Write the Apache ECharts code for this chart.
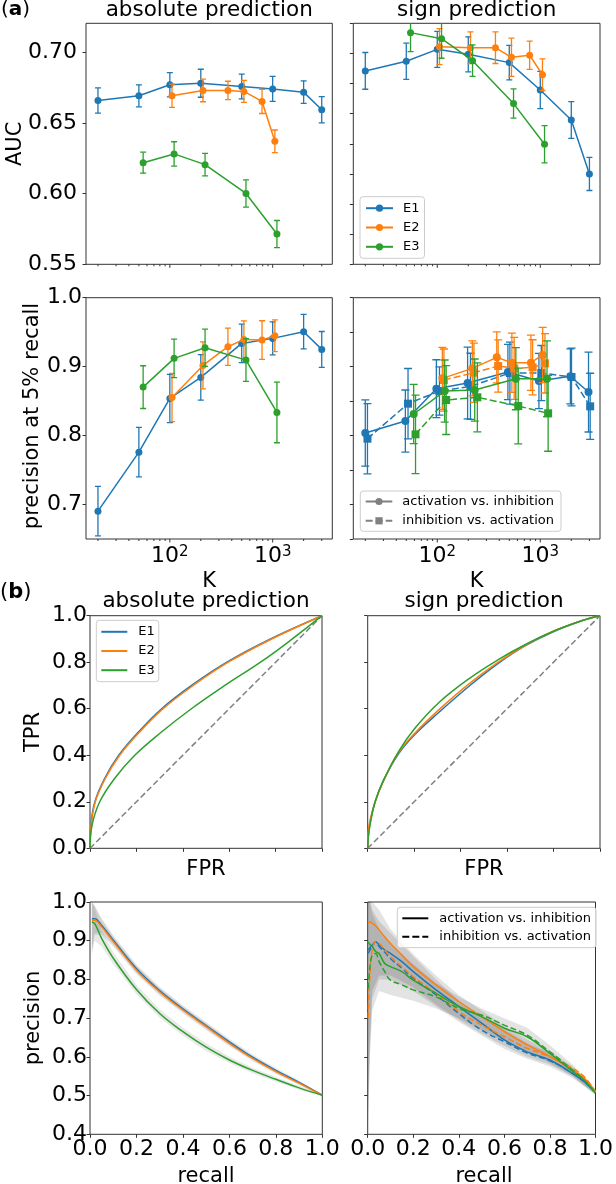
<!DOCTYPE html>
<html><head><meta charset="utf-8">
<script src="https://cdn.jsdelivr.net/npm/echarts@6/dist/echarts.min.js"></script>
<style>html,body{margin:0;padding:0;background:#fff}#c{width:616px;height:1184px}</style>
</head><body><div id="c"></div>
<script>
// ---------------- data ----------------
const kMin = 15.3, kMax = 3800;
const kMajorTicks = [100, 1000];
const kMinorTicks = [20, 30, 40, 50, 60, 70, 80, 90, 200, 300, 400, 500, 600, 700, 800, 900, 2000, 3000];

// (a) K values (with the small offsets of the original)
const kE1 = [20, 50, 100, 200, 500, 1000, 2000, 3000];
const kE2 = [105, 210, 367, 525, 788, 1050];
const kE3 = [55, 110, 220, 550, 1100];

// AUC, absolute prediction
const aucAbsE1 = [0.6659, 0.6692, 0.6770, 0.6781, 0.6758, 0.6741, 0.6718, 0.6593];
const aucAbsE1Err = [0.0089, 0.0078, 0.0086, 0.0099, 0.0088, 0.0088, 0.0080, 0.0093];
const aucAbsE2 = [0.6692, 0.6730, 0.6730, 0.6723, 0.6652, 0.6370];
const aucAbsE2Err = [0.0082, 0.0080, 0.0065, 0.0078, 0.0085, 0.0080];
const aucAbsE3 = [0.6219, 0.6281, 0.6205, 0.6001, 0.5714];
const aucAbsE3Err = [0.0074, 0.0086, 0.0080, 0.0096, 0.0096];

// AUC, sign prediction
const aucSgnE1 = [0.6884, 0.6948, 0.7027, 0.6994, 0.6939, 0.6757, 0.6558, 0.6200];
const aucSgnE1Err = [0.0122, 0.0120, 0.0120, 0.0116, 0.0115, 0.0124, 0.0122, 0.0110];
const aucSgnE2 = [0.7045, 0.7038, 0.7038, 0.6974, 0.6988, 0.6859];
const aucSgnE2Err = [0.0120, 0.0105, 0.0105, 0.0127, 0.0094, 0.0105];
const aucSgnE3 = [0.7138, 0.7098, 0.6952, 0.6667, 0.6397];
const aucSgnE3Err = [0.0126, 0.0130, 0.0105, 0.0097, 0.0124];

// precision at 5% recall, absolute prediction
const p5AbsE1 = [0.6904, 0.7760, 0.8539, 0.8844, 0.9337, 0.9410, 0.9507, 0.9250];
const p5AbsE1Err = [0.0358, 0.0360, 0.0350, 0.0330, 0.0280, 0.0240, 0.0250, 0.0260];
const p5AbsE2 = [0.8553, 0.9018, 0.9289, 0.9395, 0.9386, 0.9448];
const p5AbsE2Err = [0.0350, 0.0340, 0.0270, 0.0270, 0.0280, 0.0230];
const p5AbsE3 = [0.8703, 0.9120, 0.9274, 0.9095, 0.8336];
const p5AbsE3Err = [0.0310, 0.0280, 0.0270, 0.0310, 0.0440];

// precision at 5% recall, sign prediction
const kE1Act = [20, 49, 98, 197, 485, 970, 1960, 2940];
const kE1Inh = [21, 52, 105, 210, 507, 1023, 2010, 3050];
const kE2Act = [112, 219, 378, 530, 811, 1055];
const kE2Inh = [116, 227, 390, 558, 842, 1110];
const kE3Act = [59, 118, 231, 579, 1162];
const kE3Inh = [61.5, 122, 245, 611, 1192];
const p5SgnE1Act = [0.8037, 0.8211, 0.8680, 0.8762, 0.8922, 0.8791, 0.8859, 0.8632];
const p5SgnE1ActErr = [0.048, 0.045, 0.042, 0.052, 0.040, 0.040, 0.040, 0.058];
const p5SgnE1Inh = [0.7955, 0.8463, 0.8646, 0.8714, 0.8907, 0.8907, 0.8850, 0.8424];
const p5SgnE1InhErr = [0.051, 0.051, 0.035, 0.048, 0.045, 0.040, 0.042, 0.048];
const p5SgnE2Act = [0.8830, 0.8975, 0.9135, 0.9057, 0.9057, 0.9169];
const p5SgnE2ActErr = [0.045, 0.040, 0.037, 0.043, 0.040, 0.040];
const p5SgnE2Inh = [0.8806, 0.8912, 0.9009, 0.8975, 0.8990, 0.9048];
const p5SgnE2InhErr = [0.045, 0.043, 0.038, 0.045, 0.040, 0.043];
const p5SgnE3Act = [0.8313, 0.8646, 0.8661, 0.8825, 0.8825];
const p5SgnE3ActErr = [0.043, 0.045, 0.045, 0.045, 0.055];
const p5SgnE3Inh = [0.8018, 0.8516, 0.8555, 0.8429, 0.8323];
const p5SgnE3InhErr = [0.057, 0.050, 0.050, 0.055, 0.055];

// (b) ROC curves [FPR, TPR]
const rocAbsE1 = [[0,0],[0.004,0.1],[0.021,0.2],[0.063,0.3],[0.124,0.4],[0.209,0.5],[0.309,0.6],[0.438,0.7],[0.59,0.8],[0.778,0.9],[1,1]];
const rocAbsE2 = [[0,0],[0.005,0.1],[0.023,0.2],[0.066,0.3],[0.128,0.4],[0.214,0.5],[0.315,0.6],[0.445,0.7],[0.596,0.8],[0.783,0.9],[1,1]];
const rocAbsE3 = [[0,0],[0.009,0.1],[0.042,0.2],[0.106,0.3],[0.193,0.4],[0.308,0.5],[0.437,0.6],[0.581,0.7],[0.735,0.8],[0.872,0.9],[1,1]];
const rocSgnE1 = [[0,0],[0.002,0.05],[0.01,0.11],[0.032,0.2],[0.067,0.29],[0.132,0.405],[0.204,0.49],[0.307,0.585],[0.44,0.7],[0.562,0.795],[0.677,0.87],[0.792,0.928],[0.921,0.978],[1,1]];
const rocSgnE2 = [[0,0],[0.002,0.07],[0.01,0.12],[0.032,0.2],[0.067,0.288],[0.132,0.41],[0.204,0.496],[0.307,0.596],[0.44,0.71],[0.562,0.8],[0.677,0.872],[0.792,0.93],[0.921,0.978],[1,1]];
const rocSgnE3 = [[0,0],[0.002,0.04],[0.01,0.1],[0.032,0.2],[0.067,0.29],[0.132,0.415],[0.204,0.517],[0.307,0.627],[0.44,0.732],[0.562,0.811],[0.677,0.875],[0.792,0.93],[0.921,0.978],[1,1]];
const chance = [[0,0],[1,1]];

// PR curves, absolute prediction
const prAbsRecall = [0.008, 0.02, 0.05, 0.1, 0.2, 0.3, 0.4, 0.5, 0.6, 0.7, 0.8, 0.9, 1.0];
const prAbsE1 = [0.957, 0.957, 0.940, 0.902, 0.828, 0.771, 0.724, 0.681, 0.639, 0.599, 0.565, 0.534, 0.501];
const prAbsE2 = [0.952, 0.953, 0.936, 0.898, 0.824, 0.768, 0.721, 0.678, 0.635, 0.596, 0.562, 0.532, 0.501];
const prAbsE3 = [0.948, 0.945, 0.906, 0.855, 0.774, 0.712, 0.665, 0.625, 0.592, 0.565, 0.542, 0.520, 0.501];
const prAbsE1Lo = [0.88, 0.92, 0.92, 0.889, 0.817, 0.761, 0.715, 0.672, 0.631, 0.592, 0.559, 0.529, 0.499];
const prAbsE1Hi = [1.0, 0.99, 0.958, 0.915, 0.839, 0.781, 0.733, 0.690, 0.647, 0.606, 0.571, 0.539, 0.503];
const prAbsE2Lo = [0.87, 0.915, 0.915, 0.885, 0.813, 0.758, 0.712, 0.669, 0.627, 0.589, 0.556, 0.527, 0.499];
const prAbsE2Hi = [1.0, 0.99, 0.955, 0.911, 0.835, 0.778, 0.730, 0.687, 0.643, 0.603, 0.568, 0.537, 0.503];
const prAbsE3Lo = [0.86, 0.90, 0.885, 0.840, 0.762, 0.701, 0.655, 0.615, 0.584, 0.558, 0.536, 0.515, 0.499];
const prAbsE3Hi = [1.0, 0.985, 0.927, 0.870, 0.786, 0.723, 0.675, 0.635, 0.600, 0.572, 0.548, 0.525, 0.503];

// PR curves, sign prediction
const prSgnRecall = [0.002, 0.01, 0.02, 0.035, 0.05, 0.075, 0.1, 0.15, 0.2, 0.3, 0.4, 0.5, 0.6, 0.7, 0.8, 0.9, 0.95, 1.0];
const prSgnE1Act = [0.876, 0.882, 0.889, 0.897, 0.889, 0.876, 0.867, 0.846, 0.820, 0.773, 0.730, 0.687, 0.644, 0.613, 0.592, 0.557, 0.536, 0.508];
const prSgnE1Inh = [0.867, 0.876, 0.885, 0.897, 0.885, 0.870, 0.854, 0.829, 0.803, 0.760, 0.712, 0.669, 0.639, 0.610, 0.590, 0.557, 0.536, 0.508];
const prSgnE2Act = [0.945, 0.949, 0.945, 0.938, 0.928, 0.910, 0.893, 0.863, 0.833, 0.786, 0.743, 0.704, 0.665, 0.631, 0.601, 0.566, 0.545, 0.510];
const prSgnE2Inh = [0.700, 0.816, 0.876, 0.897, 0.893, 0.876, 0.859, 0.833, 0.807, 0.764, 0.717, 0.682, 0.652, 0.622, 0.600, 0.570, 0.549, 0.510];
const prSgnE3Act = [0.897, 0.890, 0.885, 0.872, 0.867, 0.841, 0.833, 0.820, 0.798, 0.764, 0.730, 0.704, 0.674, 0.652, 0.609, 0.562, 0.540, 0.506];
const prSgnE3Inh = [0.777, 0.833, 0.863, 0.867, 0.846, 0.820, 0.798, 0.786, 0.773, 0.755, 0.725, 0.708, 0.682, 0.656, 0.613, 0.566, 0.540, 0.506];
const prSgnBandRecall = [0.002, 0.01, 0.02, 0.05, 0.1, 0.2, 0.3, 0.4, 0.5, 0.6, 0.7, 0.8, 0.9, 1.0];
const prSgnE1Lo = [0.45, 0.62, 0.75, 0.80, 0.80, 0.77, 0.73, 0.69, 0.655, 0.62, 0.595, 0.575, 0.545, 0.503];
const prSgnE1Hi = [1.0, 1.0, 0.98, 0.95, 0.92, 0.86, 0.80, 0.745, 0.705, 0.67, 0.635, 0.61, 0.57, 0.512];
const prSgnE2Lo = [0.50, 0.65, 0.77, 0.81, 0.81, 0.78, 0.735, 0.695, 0.66, 0.628, 0.60, 0.58, 0.55, 0.503];
const prSgnE2Hi = [1.0, 1.0, 1.0, 0.98, 0.93, 0.865, 0.81, 0.76, 0.72, 0.68, 0.645, 0.615, 0.575, 0.515];
const prSgnE3Lo = [0.42, 0.60, 0.72, 0.77, 0.76, 0.745, 0.725, 0.70, 0.67, 0.64, 0.615, 0.585, 0.55, 0.502];
const prSgnE3Hi = [1.0, 1.0, 0.97, 0.93, 0.89, 0.84, 0.79, 0.755, 0.725, 0.70, 0.675, 0.63, 0.58, 0.512];

// tick values
const yTicksAucAbs = [0.55, 0.60, 0.65, 0.70];
const yTicksAucSgn = [0.56, 0.58, 0.60, 0.62, 0.64, 0.66, 0.68, 0.70, 0.72];
const yTicksP5Abs = [0.7, 0.8, 0.9, 1.0];
const yTicksP5Sgn = [0.65, 0.70, 0.75, 0.80, 0.85, 0.90, 0.95, 1.0];
const unitTicks = [0, 0.2, 0.4, 0.6, 0.8, 1.0];
const prTicks = [0.4, 0.5, 0.6, 0.7, 0.8, 0.9, 1.0];

// ---------------- styling / helpers ----------------
const FONT = 'DejaVu Sans';
const BLUE = '#1f77b4', ORANGE = '#ff7f0e', GREEN = '#2ca02c', GRAY = '#808080';
const DASH = [7, 3];
const AX = '#333';

const gridRects = [
  {left: 86, top: 23.3, width: 246.3, height: 241},
  {left: 353.3, top: 23.3, width: 246.7, height: 241},
  {left: 86, top: 297.7, width: 246.3, height: 241.3},
  {left: 353.3, top: 297.7, width: 246.7, height: 241.3},
  {left: 90, top: 615.7, width: 232, height: 232.6},
  {left: 367.7, top: 615.7, width: 232.3, height: 232.6},
  {left: 90, top: 902, width: 232.3, height: 232.3},
  {left: 367.7, top: 902, width: 232.3, height: 232.3}
];
const grid = gridRects.map(g => Object.assign({show: true, borderColor: AX, borderWidth: 1, backgroundColor: 'transparent', containLabel: false}, g));

function logLabel(v) {
  const e = Math.log10(v), r = Math.round(e);
  return Math.abs(e - r) < 1e-6 ? '10{s|' + r + '}' : '';
}
function logX(i, showLabels) {
  return {type: 'log', logBase: 10, gridIndex: i, min: kMin, max: kMax,
    axisLine: {show: false}, axisTick: {show: false}, splitLine: {show: false},
    axisLabel: {show: showLabels, formatter: logLabel, fontFamily: FONT, fontSize: 22, color: '#000', margin: 6,
      rich: {s: {fontFamily: FONT, fontSize: 15, color: '#000', verticalAlign: 'top'}}}};
}
function valAx(i, min, max, interval, ticks, labels, digits, margin, fs) {
  const ax = {type: 'value', gridIndex: i, min: min, max: max, interval: interval,
    axisLine: {show: false}, splitLine: {show: false},
    axisTick: {show: true, inside: false, length: 3.5, lineStyle: {color: AX, width: 1}, customValues: ticks}};
  if (labels) {
    ax.axisLabel = {show: true, customValues: labels,
      formatter: v => labels.some(l => Math.abs(l - v) < 1e-9) ? v.toFixed(digits) : '',
      fontFamily: FONT, fontSize: fs || 22, color: '#000', margin: margin};
  } else {
    ax.axisLabel = {show: false};
  }
  return ax;
}
function tickSeries(g, vals, len) {
  return {type: 'custom', xAxisIndex: g, yAxisIndex: g, silent: true, clip: false, z: 6,
    data: vals.map(v => [v]), encode: {x: 0},
    renderItem: (params, api) => {
      const x = api.coord([api.value(0), 0])[0];
      const cs = params.coordSys, yb = cs.y + cs.height;
      return {type: 'line', shape: {x1: x, y1: yb, x2: x, y2: yb + len}, style: {stroke: AX, lineWidth: 1}};
    }};
}
function marks(g, name, ks, vs, color, symbol, size, dashed, z) {
  return {type: 'line', name: name, xAxisIndex: g, yAxisIndex: g, z: z,
    data: ks.map((k, j) => [k, vs[j]]), symbol: symbol, symbolSize: size, showSymbol: true,
    itemStyle: {color: color}, lineStyle: {color: color, width: 1.5, type: dashed ? DASH : 'solid'},
    emphasis: {disabled: true}};
}
function errs(g, ks, vs, es, color, cap, z) {
  return {type: 'custom', xAxisIndex: g, yAxisIndex: g, clip: true, silent: true, z: z,
    data: ks.map((k, j) => [k, vs[j], es[j]]), encode: {x: 0, y: 1},
    renderItem: (params, api) => {
      const x = api.value(0), y = api.value(1), e = api.value(2);
      const a = api.coord([x, y + e]), b = api.coord([x, y - e]);
      const st = {stroke: color, lineWidth: 1.3};
      return {type: 'group', children: [
        {type: 'line', shape: {x1: a[0], y1: a[1], x2: b[0], y2: b[1]}, style: st},
        {type: 'line', shape: {x1: a[0] - cap, y1: a[1], x2: a[0] + cap, y2: a[1]}, style: st},
        {type: 'line', shape: {x1: b[0] - cap, y1: b[1], x2: b[0] + cap, y2: b[1]}, style: st}]};
    }};
}
function curve(g, name, pts, color, dash, z) {
  return {type: 'line', name: name, xAxisIndex: g, yAxisIndex: g, z: z || 3, data: pts,
    symbol: 'none', smooth: 0.4,
    itemStyle: {color: color}, lineStyle: {color: color, width: 1.5, type: dash || 'solid'},
    emphasis: {disabled: true}};
}
const zip = (xs, ys) => xs.map((x, j) => [x, ys[j]]);
function band(g, xs, lo, hi, color) {
  return {type: 'custom', xAxisIndex: g, yAxisIndex: g, clip: true, silent: true, z: 1,
    data: [[xs[0], lo[0]]], encode: {x: 0, y: 1},
    renderItem: (params, api) => {
      const pts = [];
      for (let j = 0; j < xs.length; j++) pts.push(api.coord([xs[j], hi[j]]));
      for (let j = xs.length - 1; j >= 0; j--) pts.push(api.coord([xs[j], lo[j]]));
      return {type: 'polygon', shape: {points: pts}, style: {fill: color}};
    }};
}
function dummy(g, name, color, symbol, dash) {
  return {type: 'line', name: name, xAxisIndex: g, yAxisIndex: g, data: [], symbol: symbol, symbolSize: 7,
    itemStyle: {color: color}, lineStyle: {color: color, width: 1.5, type: dash || 'solid'}};
}

// ---------------- axes ----------------
const xAxis = [
  logX(0, false), logX(1, false), logX(2, true), logX(3, true),
  valAx(4, 0, 1, 0.2, unitTicks, null),
  valAx(5, 0, 1, 0.2, unitTicks, null),
  valAx(6, 0, 1, 0.2, unitTicks, unitTicks, 1, 4),
  valAx(7, 0, 1, 0.2, unitTicks, unitTicks, 1, 4)
];
const yAxis = [
  valAx(0, 0.55, 0.7205, 0.05, yTicksAucAbs, yTicksAucAbs, 2, 9),
  valAx(1, 0.56, 0.72, 0.02, yTicksAucSgn, null),
  valAx(2, 0.65, 1.0, 0.05, yTicksP5Abs, yTicksP5Abs, 1, 4),
  valAx(3, 0.65, 1.0, 0.05, yTicksP5Sgn, null),
  valAx(4, 0, 1, 0.2, unitTicks, unitTicks, 1, 3),
  valAx(5, 0, 1, 0.2, unitTicks, null),
  valAx(6, 0.4, 1.0, 0.1, prTicks, prTicks, 1, 3),
  valAx(7, 0.4, 1.0, 0.1, prTicks, null)
];

// ---------------- series ----------------
const series = [];
for (let g = 0; g < 4; g++) {
  series.push(tickSeries(g, kMajorTicks, 3.5), tickSeries(g, kMinorTicks, 2));
}
// panel 1
series.push(marks(0, 'E1', kE1, aucAbsE1, BLUE, 'circle', 7, false, 2), errs(0, kE1, aucAbsE1, aucAbsE1Err, BLUE, 3, 2));
series.push(marks(0, 'E2', kE2, aucAbsE2, ORANGE, 'circle', 7, false, 3), errs(0, kE2, aucAbsE2, aucAbsE2Err, ORANGE, 3, 3));
series.push(marks(0, 'E3', kE3, aucAbsE3, GREEN, 'circle', 7, false, 4), errs(0, kE3, aucAbsE3, aucAbsE3Err, GREEN, 3, 4));
// panel 2
series.push(marks(1, 'E1', kE1, aucSgnE1, BLUE, 'circle', 7, false, 2), errs(1, kE1, aucSgnE1, aucSgnE1Err, BLUE, 3, 2));
series.push(marks(1, 'E2', kE2, aucSgnE2, ORANGE, 'circle', 7, false, 3), errs(1, kE2, aucSgnE2, aucSgnE2Err, ORANGE, 3, 3));
series.push(marks(1, 'E3', kE3, aucSgnE3, GREEN, 'circle', 7, false, 4), errs(1, kE3, aucSgnE3, aucSgnE3Err, GREEN, 3, 4));
// panel 3
series.push(marks(2, 'E1', kE1, p5AbsE1, BLUE, 'circle', 7, false, 2), errs(2, kE1, p5AbsE1, p5AbsE1Err, BLUE, 3, 2));
series.push(marks(2, 'E2', kE2, p5AbsE2, ORANGE, 'circle', 7, false, 3), errs(2, kE2, p5AbsE2, p5AbsE2Err, ORANGE, 3, 3));
series.push(marks(2, 'E3', kE3, p5AbsE3, GREEN, 'circle', 7, false, 4), errs(2, kE3, p5AbsE3, p5AbsE3Err, GREEN, 3, 4));
// panel 4
series.push(marks(3, 'E1 act', kE1Act, p5SgnE1Act, BLUE, 'circle', 8, false, 2), errs(3, kE1Act, p5SgnE1Act, p5SgnE1ActErr, BLUE, 4, 2));
series.push(marks(3, 'E1 inh', kE1Inh, p5SgnE1Inh, BLUE, 'rect', 8, true, 2), errs(3, kE1Inh, p5SgnE1Inh, p5SgnE1InhErr, BLUE, 4, 2));
series.push(marks(3, 'E2 act', kE2Act, p5SgnE2Act, ORANGE, 'circle', 8, false, 3), errs(3, kE2Act, p5SgnE2Act, p5SgnE2ActErr, ORANGE, 4, 3));
series.push(marks(3, 'E2 inh', kE2Inh, p5SgnE2Inh, ORANGE, 'rect', 8, true, 3), errs(3, kE2Inh, p5SgnE2Inh, p5SgnE2InhErr, ORANGE, 4, 3));
series.push(marks(3, 'E3 act', kE3Act, p5SgnE3Act, GREEN, 'circle', 8, false, 4), errs(3, kE3Act, p5SgnE3Act, p5SgnE3ActErr, GREEN, 4, 4));
series.push(marks(3, 'E3 inh', kE3Inh, p5SgnE3Inh, GREEN, 'rect', 8, true, 4), errs(3, kE3Inh, p5SgnE3Inh, p5SgnE3InhErr, GREEN, 4, 4));
series.push(dummy(3, 'activation vs. inhibition', GRAY, 'circle'), dummy(3, 'inhibition vs. activation', GRAY, 'rect', DASH));
// panel 5, 6 (ROC)
series.push(curve(4, 'chance', chance, GRAY, [6, 3], 2));
series.push(curve(4, 'E1 ', rocAbsE1, BLUE), curve(4, 'E2 ', rocAbsE2, ORANGE), curve(4, 'E3 ', rocAbsE3, GREEN));
series.push(curve(5, 'chance', chance, GRAY, [6, 3], 2));
series.push(curve(5, 'E1 ', rocSgnE1, BLUE), curve(5, 'E2 ', rocSgnE2, ORANGE), curve(5, 'E3 ', rocSgnE3, GREEN));
// panel 7 (PR absolute)
const BAND = 'rgba(0,0,0,0.09)';
series.push(band(6, prAbsRecall, prAbsE1Lo, prAbsE1Hi, BAND), band(6, prAbsRecall, prAbsE2Lo, prAbsE2Hi, BAND), band(6, prAbsRecall, prAbsE3Lo, prAbsE3Hi, BAND));
series.push(curve(6, 'E1 ', zip(prAbsRecall, prAbsE1), BLUE), curve(6, 'E2 ', zip(prAbsRecall, prAbsE2), ORANGE), curve(6, 'E3 ', zip(prAbsRecall, prAbsE3), GREEN));
// panel 8 (PR sign)
const BAND2 = 'rgba(0,0,0,0.11)';
series.push(band(7, prSgnBandRecall, prSgnE1Lo, prSgnE1Hi, BAND2), band(7, prSgnBandRecall, prSgnE2Lo, prSgnE2Hi, BAND2), band(7, prSgnBandRecall, prSgnE3Lo, prSgnE3Hi, BAND2));
series.push(curve(7, 'E1 ', zip(prSgnRecall, prSgnE1Act), BLUE), curve(7, 'E1 ', zip(prSgnRecall, prSgnE1Inh), BLUE, [6, 3]));
series.push(curve(7, 'E2 ', zip(prSgnRecall, prSgnE2Act), ORANGE), curve(7, 'E2 ', zip(prSgnRecall, prSgnE2Inh), ORANGE, [6, 3]));
series.push(curve(7, 'E3 ', zip(prSgnRecall, prSgnE3Act), GREEN), curve(7, 'E3 ', zip(prSgnRecall, prSgnE3Inh), GREEN, [6, 3]));
series.push(dummy(7, 'activation vs. inhibition ', '#000', 'none'), dummy(7, 'inhibition vs. activation ', '#000', 'none', [6, 3]));

// ---------------- legends ----------------
const legBase = {show: true, orient: 'vertical', selectedMode: false, borderColor: '#cccccc', borderWidth: 1, borderRadius: 3,
  backgroundColor: 'rgba(255,255,255,0.8)', formatter: n => n.trim(), itemWidth: 27,
  textStyle: {fontFamily: FONT, fontSize: 13, color: '#000', padding: [0, 0, 0, 5]}};
const DASHICON = 'path://M0,0h7v2h-7z M10,0h7v2h-7z M20,0h6v2h-6z';
const legend = [
  Object.assign({}, legBase, {left: 360, top: 196.7, data: ['E1', 'E2', 'E3'], itemHeight: 9, itemGap: 6.3, padding: [5, 5, 5, 5]}),
  Object.assign({}, legBase, {left: 360.3, top: 491, data: ['activation vs. inhibition', 'inhibition vs. activation'], itemHeight: 9, itemGap: 6.3, padding: [4, 7, 4, 4.4], itemWidth: 26.6}),
  Object.assign({}, legBase, {left: 96.3, top: 620.3, data: [{name: 'E1 ', icon: 'rect'}, {name: 'E2 ', icon: 'rect'}, {name: 'E3 ', icon: 'rect'}], itemHeight: 2, itemWidth: 26, itemGap: 6.2, padding: [5, 4, 5, 5],
    textStyle: {fontFamily: FONT, fontSize: 13, color: '#000', padding: [0, 0, 0, 6]}}),
  Object.assign({}, legBase, {left: 397.3, top: 907.3, data: [{name: 'activation vs. inhibition ', icon: 'rect'}, {name: 'inhibition vs. activation ', icon: DASHICON}], itemHeight: 2, itemWidth: 26, itemGap: 5.4, padding: [4.5, 5, 4.5, 5],
    textStyle: {fontFamily: FONT, fontSize: 13, color: '#000', padding: [0, 0, 0, 6]}})
];

// ---------------- text ----------------
function txt(x, y, text, size, rot, align) {
  return {type: 'text', x: x, y: y, rotation: rot ? Math.PI / 2 : 0, silent: true,
    style: {text: text, fontFamily: FONT, fontSize: size, fill: '#000', align: align || 'center', verticalAlign: 'middle',
      rich: {b: {fontFamily: FONT, fontSize: size, fontWeight: 'bold', fill: '#000'}}}};
}
const graphic = [
  txt(1, 10, '({b|a})', 20, false, 'left'),
  txt(209.2, 10.3, 'absolute prediction', 21.5),
  txt(476.7, 10.3, 'sign prediction', 21.5),
  txt(15.7, 143.8, 'AUC', 21, true),
  txt(33, 416, 'precision at 5% recall', 21, true),
  txt(209.2, 582, 'K', 21),
  txt(476.7, 582, 'K', 21),
  txt(0, 593, '({b|b})', 21, false, 'left'),
  txt(206, 601.5, 'absolute prediction', 21.5),
  txt(484, 601.5, 'sign prediction', 21.5),
  txt(33.5, 732, 'TPR', 21, true),
  txt(206, 870, 'FPR', 21),
  txt(484, 870, 'FPR', 21),
  txt(34, 1018, 'precision', 21, true),
  txt(206, 1177, 'recall', 21),
  txt(484, 1177, 'recall', 21)
];

const chart = echarts.init(document.getElementById('c'), null, {renderer: 'canvas'});
chart.setOption({animation: false, backgroundColor: '#fff', grid: grid, xAxis: xAxis, yAxis: yAxis,
  series: series, legend: legend, graphic: graphic, tooltip: {show: false}});
</script></body></html>
